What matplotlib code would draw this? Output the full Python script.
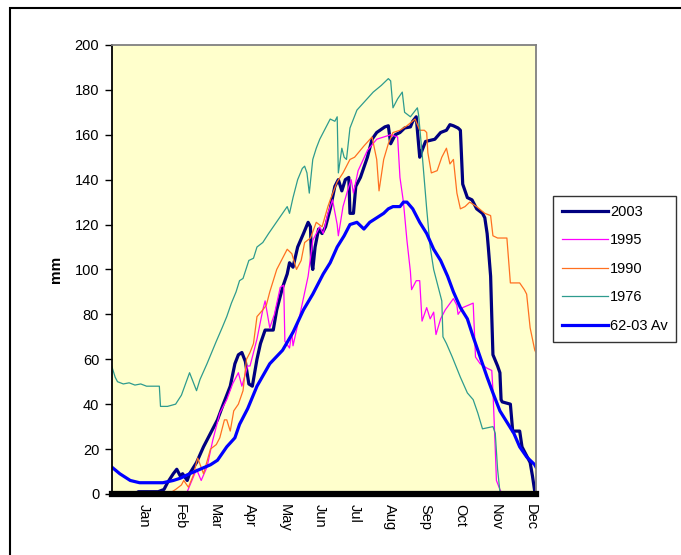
import matplotlib
matplotlib.use("Agg")
import matplotlib.pyplot as plt
from matplotlib.patches import Rectangle

plt.rcParams['font.family'] = ['Liberation Sans', 'DejaVu Sans']

# day of year, storage in mm
day_2003 = [0, 20, 23, 40, 45, 48, 53, 56, 59, 61, 65, 67, 73, 79, 85, 91, 96, 102, 106, 109,
            112, 115, 118, 121, 125, 128, 132, 136, 139, 142, 147, 151, 153, 156, 160, 165, 169,
            171, 172, 173, 175, 178, 181, 184, 188, 192, 195, 198, 201, 204, 205, 208, 210, 214,
            220, 224, 228, 235, 238, 240, 244, 248, 252, 257, 259, 262, 264, 265, 267, 270, 278,
            283, 288, 291, 294, 298, 300, 302, 306, 310, 314, 319, 321, 323, 324, 326, 327, 328,
            332, 334, 335, 336, 343, 345, 351, 353, 358, 360, 362, 364, 365]
mm_2003 = [0, 0, 1, 1, 2, 5, 9, 11, 8, 9, 6, 9, 14, 21, 27, 33, 40, 48, 58, 62,
           63, 59, 49, 48, 60, 67, 73, 73, 73, 82, 92, 98, 103, 101, 110, 116, 121,
           119, 103, 100, 110, 118, 116, 119, 127, 137, 140, 135, 140, 141, 125, 125, 137, 141,
           150, 158, 161, 163.5, 164, 156, 160, 161, 163, 163.5, 166, 168, 156, 150, 153, 157, 158,
           161, 162, 164.5, 164, 163, 162, 138, 132, 131, 127, 125, 123, 116, 110, 97, 79, 62,
           57, 54, 42, 41, 40, 28, 28, 21, 16, 14, 8, 1, 0]

day_1995 = [0, 25, 27, 30, 60, 65, 69, 73, 77, 82, 87, 93, 99, 104, 109, 112, 117, 119, 125,
            130, 132, 136, 140, 145, 148, 149, 153, 155, 156, 162, 169, 173, 179, 182, 186, 190,
            194, 195, 199, 204, 206, 208, 212, 220, 228, 234, 240, 246, 248, 251, 254, 257, 258,
            262, 265, 267, 271, 274, 277, 279, 283, 287, 294, 297, 298, 302, 311, 313, 317, 323,
            327, 328, 330, 331, 334, 336, 365]
mm_1995 = [0, 0, 1, 0, 0, 1, 6, 11, 6, 12, 24, 36, 42, 49, 54, 48, 57, 57, 69,
           82, 86, 74, 80, 92, 93, 68, 65, 72, 66, 80, 97, 113, 119, 116, 125, 131,
           120, 115, 128, 137, 140, 134, 144, 153, 158, 159, 160, 159, 141, 130, 113, 99, 91,
           95, 95, 77, 83, 78, 81, 71, 78, 82, 87, 84, 80, 83, 85, 61, 58, 56,
           55, 46, 20, 6, 2, 0, 0]

day_1990 = [0, 48, 52, 55, 60, 62, 66, 70, 74, 79, 85, 90, 93, 97, 99, 102, 105, 109, 113,
            116, 119, 122, 125, 130, 133, 136, 142, 147, 151, 155, 159, 163, 166, 171, 176, 181,
            186, 188, 194, 199, 205, 209, 217, 224, 228, 230, 234, 238, 242, 248, 254, 261, 265,
            269, 271, 272, 275, 280, 284, 288, 291, 294, 297, 300, 304, 308, 314, 321, 326, 328,
            332, 340, 343, 351, 355, 357, 360, 364, 365]
mm_1990 = [0, 0, 1, 2, 4, 6, 3, 8, 16, 9, 20, 22, 25, 33, 33, 28, 37, 40, 46,
           60, 63, 67, 79, 82, 84, 90, 100, 105, 109, 107, 100, 104, 112, 114, 121, 119,
           128, 131, 139, 143, 149, 150, 155, 159, 149, 135, 149, 156, 161, 162, 164, 167, 162,
           162, 161, 152, 143, 144, 150, 154, 147, 149, 134, 127, 128, 130, 128, 125, 124, 115,
           114, 114, 94, 94, 91, 89, 74, 64, 63]

day_1976 = [0, 3, 5, 10, 15, 20, 25, 30, 41, 42, 48, 55, 60, 67, 70, 73, 76, 82, 90, 95, 99,
            103, 107, 110, 113, 118, 122, 125, 130, 135, 139, 143, 147, 151, 153, 156, 160, 164,
            166, 168, 170, 173, 176, 179, 184, 188, 192, 194, 195, 198, 200, 202, 205, 211, 218,
            225, 232, 238, 240, 242, 246, 250, 252, 257, 263, 264, 267, 271, 274, 277, 280, 284,
            285, 288, 293, 300, 306, 311, 315, 319, 328, 330, 332, 334, 336, 355, 357, 362, 363, 365]
mm_1976 = [57, 52, 50, 49, 49.5, 48.5, 49, 48, 48, 39, 39, 40, 44, 54, 50, 46, 51, 58, 68, 74, 79,
           85, 90, 95, 96, 104, 105, 110, 112, 116, 119, 122, 125, 128, 125, 132, 140, 145,
           146, 143, 134, 149, 154, 158, 163, 167, 166, 168, 143, 154, 150, 149, 163, 171, 175,
           179, 182, 185, 184, 172, 176, 179, 170, 168, 172, 169, 152, 127, 110, 100, 94, 86,
           70, 67, 61, 52, 45, 42, 36, 29, 30, 27, 11, 1, 0, 0, 1, 1, 0, 0]

day_avg = [0, 7, 16, 24, 33, 44, 53, 59, 67, 76, 85, 91, 99, 106, 110, 117, 125, 136, 147, 156,
           165, 173, 182, 188, 194, 200, 205, 211, 217, 222, 228, 234, 238, 242, 248, 251, 254,
           259, 265, 271, 277, 283, 289, 294, 300, 306, 311, 317, 323, 328, 334, 340, 346, 351,
           357, 364, 365]
mm_avg = [12, 9, 6, 5, 5, 5, 6, 7, 9, 11, 13, 15, 21, 25, 31, 38, 48, 58, 64, 72,
          82, 89, 98, 103, 110, 115, 120, 121, 118, 121, 123, 125, 127, 128, 128, 130, 130,
          127, 121, 116, 109, 104, 97, 90, 83, 78, 70, 61, 52, 45, 37, 32, 27, 21,
          16.5, 13, 12]

months = ['Jan', 'Feb', 'Mar', 'Apr', 'May', 'Jun', 'Jul', 'Aug', 'Sep', 'Oct', 'Nov', 'Dec']

fig = plt.figure(figsize=(6.81, 5.55), dpi=100)
ax = fig.add_axes([0.164, 0.110, 0.623, 0.809])
ax.set_facecolor('#FFFFCC')

ax.plot(day_2003, mm_2003, color='#000080', lw=2.3, label='2003')
ax.plot(day_1995, mm_1995, color='#FF00FF', lw=0.9, label='1995')
ax.plot(day_1990, mm_1990, color='#FF7020', lw=0.9, label='1990')
ax.plot(day_1976, mm_1976, color='#2E9B8E', lw=0.9, label='1976')
ax.plot(day_avg, mm_avg, color='#0000FF', lw=2.3, label='62-03 Av')

ax.set_xlim(0, 365)
ax.set_ylim(0, 200)
ax.set_yticks(range(0, 201, 20))
ax.tick_params(axis='y', direction='out', length=5, width=1, labelsize=10.5, pad=4)
ax.set_xticks([28 + 30.2 * i for i in range(12)])
ax.set_xticklabels(months, rotation=-90, fontsize=10.5)
ax.tick_params(axis='x', length=0, pad=7)
ax.set_ylabel('mm', fontweight='bold', fontsize=11, labelpad=8)

ax.spines['left'].set_color('black')
ax.spines['left'].set_linewidth(1.3)
ax.spines['bottom'].set_color('black')
ax.spines['bottom'].set_linewidth(4.5)
for s in ['top', 'right']:
    ax.spines[s].set_color('#808080')
    ax.spines[s].set_linewidth(1.3)

leg = fig.legend(loc='upper left', bbox_to_anchor=(0.812, 0.647), fontsize=10.5,
                 frameon=True, fancybox=False, handlelength=3.2, handletextpad=0.1,
                 labelspacing=1.0, borderpad=0.6, borderaxespad=0)
leg.get_frame().set_edgecolor('black')
leg.get_frame().set_linewidth(1.0)

fig.patches.append(Rectangle((10 / 681, -0.1), 1.2, 1.1 - 8 / 555, transform=fig.transFigure,
                             fill=False, edgecolor='black', linewidth=1.5))

fig.savefig('out.png', dpi=100)
